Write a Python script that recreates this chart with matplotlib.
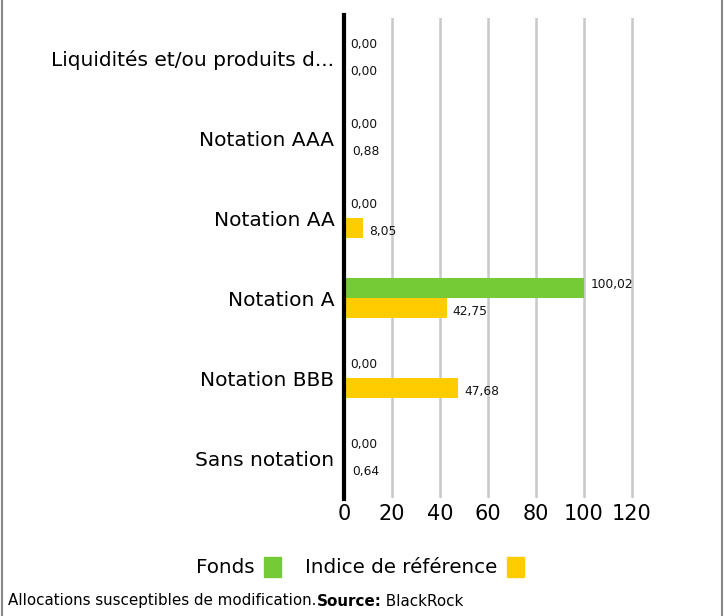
import matplotlib
matplotlib.use("Agg")
import matplotlib.pyplot as plt
from matplotlib.patches import Rectangle
from matplotlib.lines import Line2D
import numpy as np

categories = ["Liquidités et/ou produits d...", "Notation AAA", "Notation AA",
              "Notation A", "Notation BBB", "Sans notation"]
fonds = [0.00, 0.00, 0.00, 100.02, 0.00, 0.00]
indice = [0.00, 0.88, 8.05, 42.75, 47.68, 0.64]
series_names = ["Fonds", "Indice de référence"]
xticks = [0, 20, 40, 60, 80, 100, 120]

GREEN = "#75cb35"
YELLOW = "#ffcc00"
FONT = ['DejaVu Sans']

def fmt(v):
    return f"{v:.2f}".replace(".", ",")

XMAX = 122
fig = plt.figure(figsize=(7.24, 6.16), dpi=100)
ax = fig.add_axes([344/724, 1-498/616, (288*XMAX/120)/724, 480/616])

y = np.arange(len(categories))
h = 0.25
ax.barh(y - h/2, fonds, height=h, color=GREEN)
ax.barh(y + h/2, indice, height=h, color=YELLOW)

for yi, v in zip(y, fonds):
    ax.annotate(fmt(v), (v, yi - h/2), xytext=(4.5, 2.5), textcoords="offset points",
                va="center", ha="left", fontsize=8.8, family=FONT, color="#111111")
for yi, v in zip(y, indice):
    ax.annotate(fmt(v), (v, yi + h/2), xytext=(4.5, -2.5), textcoords="offset points",
                va="center", ha="left", fontsize=8.8, family=FONT, color="#111111")

ax.set_xlim(0, XMAX)
ax.set_ylim(len(categories) - 0.5, -0.5)
ax.set_xticks(xticks)
ax.set_xticklabels([str(t) for t in xticks], family=FONT, fontsize=15)
ax.set_yticks(y)
ax.set_yticklabels(categories, family=FONT, fontsize=14.5)
ax.tick_params(axis='y', length=0, pad=7)
ax.tick_params(axis='x', length=0, pad=4)
ax.grid(axis='x', color="#c8c8c8", linewidth=1.8)
ax.set_axisbelow(True)
for s in ax.spines.values():
    s.set_visible(False)
ax.axvline(0, color="black", linewidth=3, zorder=5, ymin=-0.003, ymax=1.006, clip_on=False)

handles = [Rectangle((0, 0), 1, 1, color=GREEN), Rectangle((0, 0), 1, 1, color=YELLOW)]
leg = fig.legend(handles, series_names, loc="center", bbox_to_anchor=(360/724, 1-567/616),
                 ncol=2, frameon=False, markerfirst=False, prop={'family': FONT, 'size': 14.3},
                 handlelength=0.85, handleheight=1.2, handletextpad=0.5, columnspacing=1.2)

# side borders
fig.add_artist(Line2D([2/724, 2/724], [0, 1], color="#888888", linewidth=1.5))
fig.add_artist(Line2D([722/724, 722/724], [0, 1], color="#888888", linewidth=1.5))

# footer
fig.canvas.draw()
r = fig.canvas.get_renderer()
x0 = 8/724
yf = 1 - 601/616
t1 = fig.text(x0, yf, "Allocations susceptibles de modification.", family=FONT, fontsize=10.9, va="center")
bb = t1.get_window_extent(r)
t2 = fig.text(bb.x1/724, yf, "Source:", family=FONT, fontsize=10.9, fontweight="bold", va="center")
bb2 = t2.get_window_extent(r)
fig.text(bb2.x1/724, yf, " BlackRock", family=FONT, fontsize=10.9, va="center")

fig.savefig("out.png", dpi=100)
